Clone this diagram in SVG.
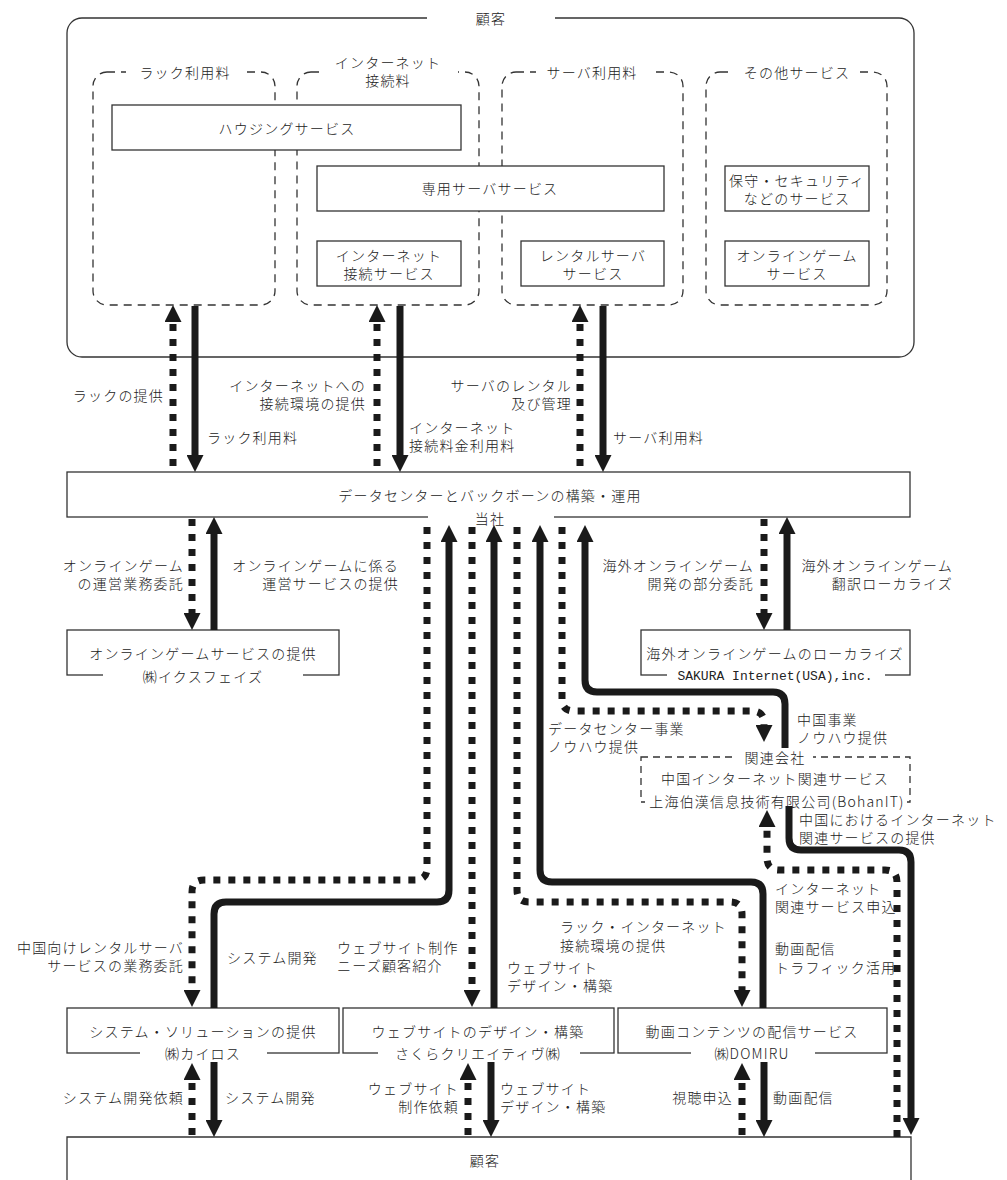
<svg xmlns="http://www.w3.org/2000/svg" width="1007" height="1180" viewBox="0 0 1007 1180">
<defs>
<style>
.t{font-family:"Noto Sans CJK JP","Noto Sans",sans-serif;font-size:14px;font-weight:300;letter-spacing:1.2px;fill:#222;dominant-baseline:central}
.mono{font-family:"Liberation Mono",monospace;font-size:13px;letter-spacing:0;font-weight:400}
.m{text-anchor:middle}
.e{text-anchor:end}
.box{fill:#fff;stroke:#333;stroke-width:1.3}
.dash{fill:none;stroke:#333;stroke-width:1.3;stroke-dasharray:8 6}
.line{fill:none;stroke:#333;stroke-width:1.3}
.msk{fill:#fff}
.sol{fill:none;stroke:#1a1a1a;stroke-width:7;marker-end:url(#ah)}
.dot{fill:none;stroke:#1a1a1a;stroke-width:7;stroke-dasharray:7 8;marker-end:url(#ah)}
</style>
<marker id="ah" viewBox="0 0 17 17" refX="2" refY="8.5" markerWidth="17" markerHeight="17" markerUnits="userSpaceOnUse" orient="auto">
<path d="M0,0 L17,8.5 L0,17 Z" fill="#1a1a1a"/>
</marker>
</defs>
<rect width="1007" height="1180" fill="#fff"/>

<g id="customer-top">
<path class="line" d="M427,18 H82 A15,15 0 0 0 67,33 V342 A15,15 0 0 0 82,357 H899 A15,15 0 0 0 914,342 V33 A15,15 0 0 0 899,18 H555"/>
<text class="t m" x="491" y="18">顧客</text>
</g>
<g id="grp-rack">
<rect class="dash" x="93" y="72" width="182" height="233" rx="14"/>
<rect class="msk" x="126" y="64" width="118" height="16"/>
<text class="t m" x="185" y="72">ラック利用料</text>
</g>
<g id="grp-inet">
<rect class="dash" x="297" y="72" width="182" height="233" rx="14"/>
<rect class="msk" x="322" y="52" width="136" height="36"/>
<text class="t m"><tspan x="388" y="62">インターネット</tspan><tspan x="388" y="80">接続料</tspan></text>
</g>
<g id="grp-server">
<rect class="dash" x="502" y="72" width="181" height="233" rx="14"/>
<rect class="msk" x="536" y="64" width="114" height="16"/>
<text class="t m" x="592" y="72">サーバ利用料</text>
</g>
<g id="grp-other">
<rect class="dash" x="706" y="72" width="181" height="233" rx="14"/>
<rect class="msk" x="733" y="64" width="127" height="16"/>
<text class="t m" x="797" y="72">その他サービス</text>
</g>
<g id="housing">
<rect class="box" x="112" y="105" width="349" height="45"/>
<text class="t m" x="287" y="128">ハウジングサービス</text>
</g>
<g id="dedicated">
<rect class="box" x="317" y="166" width="347" height="45"/>
<text class="t m" x="490" y="188">専用サーバサービス</text>
</g>
<g id="inet-service">
<rect class="box" x="317" y="241" width="144" height="45"/>
<text class="t m"><tspan x="389" y="255">インターネット</tspan><tspan x="389" y="273">接続サービス</tspan></text>
</g>
<g id="rental">
<rect class="box" x="521" y="241" width="143" height="45"/>
<text class="t m"><tspan x="593" y="255">レンタルサーバ</tspan><tspan x="593" y="273">サービス</tspan></text>
</g>
<g id="security">
<rect class="box" x="725" y="166" width="144" height="45"/>
<text class="t m"><tspan x="797" y="180">保守・セキュリティ</tspan><tspan x="797" y="198">などのサービス</tspan></text>
</g>
<g id="online-game">
<rect class="box" x="725" y="241" width="144" height="45"/>
<text class="t m"><tspan x="797" y="255">オンラインゲーム</tspan><tspan x="797" y="273">サービス</tspan></text>
</g>

<g id="company">
<rect class="box" x="67" y="472" width="843" height="45"/>
<rect class="msk" x="428" y="511" width="126" height="12"/>
<text class="t m" x="490" y="495">データセンターとバックボーンの構築・運用</text>
<text class="t m" x="490" y="518">当社</text>
</g>
<g id="ixfaze">
<rect class="box" x="67" y="630" width="272" height="45"/>
<rect class="msk" x="103" y="670" width="200" height="12"/>
<text class="t m" x="203" y="653">オンラインゲームサービスの提供</text>
<text class="t m" x="203" y="676">㈱イクスフェイズ</text>
</g>
<g id="sakura-usa">
<rect class="box" x="641" y="630" width="269" height="45"/>
<rect class="msk" x="667" y="670" width="218" height="12"/>
<text class="t m" x="775" y="653">海外オンラインゲームのローカライズ</text>
<text class="t mono m" x="775" y="676">SAKURA Internet(USA),inc.</text>
</g>
<g id="bohan">
<rect class="box" x="641" y="757" width="269" height="45" style="stroke-dasharray:7 5"/>
<rect class="msk" x="733" y="750" width="80" height="14"/>
<rect class="msk" x="645" y="796" width="262" height="12"/>
<text class="t m" x="775" y="757">関連会社</text>
<text class="t m" x="775" y="778">中国インターネット関連サービス</text>
<text class="t m" x="777" y="801">上海伯漢信息技術有限公司(BohanIT)</text>
</g>
<g id="kairos">
<rect class="box" x="67" y="1008" width="272" height="45"/>
<rect class="msk" x="140" y="1047" width="127" height="12"/>
<text class="t m" x="203" y="1031">システム・ソリューションの提供</text>
<text class="t m" x="203" y="1053">㈱カイロス</text>
</g>
<g id="sakura-creative">
<rect class="box" x="343" y="1008" width="271" height="45"/>
<rect class="msk" x="378" y="1047" width="202" height="12"/>
<text class="t m" x="478" y="1031">ウェブサイトのデザイン・構築</text>
<text class="t m" x="478" y="1053">さくらクリエイティヴ㈱</text>
</g>
<g id="domiru">
<rect class="box" x="618" y="1008" width="269" height="45"/>
<rect class="msk" x="691" y="1047" width="124" height="12"/>
<text class="t m" x="752" y="1031">動画コンテンツの配信サービス</text>
<text class="t m" x="752" y="1053">㈱DOMIRU</text>
</g>
<g id="customer-bottom">
<path class="line" d="M67,1180 V1137 H911 V1180"/>
<text class="t m" x="485" y="1160">顧客</text>
</g>

<g id="connectors">
<path class="dot" d="M173,466 V320"/>
<path class="sol" d="M195,306 V457"/>
<path class="dot" d="M377,466 V320"/>
<path class="sol" d="M400,306 V457"/>
<path class="dot" d="M580,466 V320"/>
<path class="sol" d="M603,306 V457"/>

<path class="dot" d="M192,519 V615"/>
<path class="sol" d="M214,630 V532"/>
<path class="dot" d="M764,519 V615"/>
<path class="sol" d="M787,630 V532"/>

<path class="dot" d="M427,527 V868 Q427,880 415,880 H204 Q192,880 192,892 V992"/>
<path class="sol" d="M214,1008 V914 Q214,902 226,902 H437 Q449,902 449,890 V540"/>
<path class="dot" d="M472,527 V992"/>
<path class="sol" d="M494,1008 V540"/>
<path class="dot" d="M517,527 V890 Q517,902 529,902 H730 Q742,902 742,914 V992"/>
<path class="sol" d="M763,1008 V894 Q763,882 751,882 H552 Q540,882 540,870 V540"/>
<path class="dot" d="M562,527 V699 Q562,711 574,711 H752 Q764,711 764,723 V727"/>
<path class="sol" d="M785,748 V704 Q785,692 773,692 H597 Q585,692 585,680 V540"/>

<path class="dot" d="M897,1137 V882 Q897,870 885,870 H779 Q767,870 767,858 V825"/>
<path class="sol" d="M789,806 V838 Q789,850 801,850 H899 Q911,850 911,862 V1120"/>

<path class="dot" d="M192,1135 V1078"/>
<path class="sol" d="M214,1062 V1122"/>
<path class="dot" d="M468,1135 V1078"/>
<path class="sol" d="M491,1062 V1122"/>
<path class="dot" d="M742,1135 V1078"/>
<path class="sol" d="M764,1062 V1122"/>

<text class="t e" x="164" y="395">ラックの提供</text>
<text class="t" x="207" y="437">ラック利用料</text>
<text class="t e"><tspan x="366" y="385">インターネットへの</tspan><tspan x="366" y="403">接続環境の提供</tspan></text>
<text class="t"><tspan x="409" y="427">インターネット</tspan><tspan x="409" y="445">接続料金利用料</tspan></text>
<text class="t e"><tspan x="572" y="385">サーバのレンタル</tspan><tspan x="572" y="403">及び管理</tspan></text>
<text class="t" x="613" y="437">サーバ利用料</text>

<text class="t e"><tspan x="184" y="565">オンラインゲーム</tspan><tspan x="184" y="583">の運営業務委託</tspan></text>
<text class="t e"><tspan x="399" y="565">オンラインゲームに係る</tspan><tspan x="399" y="583">運営サービスの提供</tspan></text>
<text class="t e"><tspan x="754" y="565">海外オンラインゲーム</tspan><tspan x="754" y="583">開発の部分委託</tspan></text>
<text class="t e"><tspan x="953" y="565">海外オンラインゲーム</tspan><tspan x="953" y="583">翻訳ローカライズ</tspan></text>

<text class="t"><tspan x="548" y="728">データセンター事業</tspan><tspan x="548" y="746">ノウハウ提供</tspan></text>
<text class="t"><tspan x="797" y="719">中国事業</tspan><tspan x="797" y="737">ノウハウ提供</tspan></text>
<text class="t"><tspan x="799" y="819">中国におけるインターネット</tspan><tspan x="799" y="837">関連サービスの提供</tspan></text>
<text class="t"><tspan x="775" y="888">インターネット</tspan><tspan x="775" y="906">関連サービス申込</tspan></text>
<text class="t"><tspan x="775" y="948">動画配信</tspan><tspan x="775" y="967">トラフィック活用</tspan></text>

<text class="t e"><tspan x="184" y="947">中国向けレンタルサーバ</tspan><tspan x="184" y="965">サービスの業務委託</tspan></text>
<text class="t" x="227" y="957">システム開発</text>
<text class="t"><tspan x="337" y="947">ウェブサイト制作</tspan><tspan x="337" y="965">ニーズ顧客紹介</tspan></text>
<text class="t"><tspan x="560" y="926">ラック・インターネット</tspan><tspan x="560" y="945">接続環境の提供</tspan></text>
<text class="t"><tspan x="507" y="967">ウェブサイト</tspan><tspan x="507" y="985">デザイン・構築</tspan></text>

<text class="t e" x="184" y="1097">システム開発依頼</text>
<text class="t" x="225" y="1097">システム開発</text>
<text class="t e"><tspan x="459" y="1088">ウェブサイト</tspan><tspan x="459" y="1106">制作依頼</tspan></text>
<text class="t"><tspan x="500" y="1088">ウェブサイト</tspan><tspan x="500" y="1106">デザイン・構築</tspan></text>
<text class="t e" x="733" y="1097">視聴申込</text>
<text class="t" x="773" y="1097">動画配信</text>
</g>
</svg>
